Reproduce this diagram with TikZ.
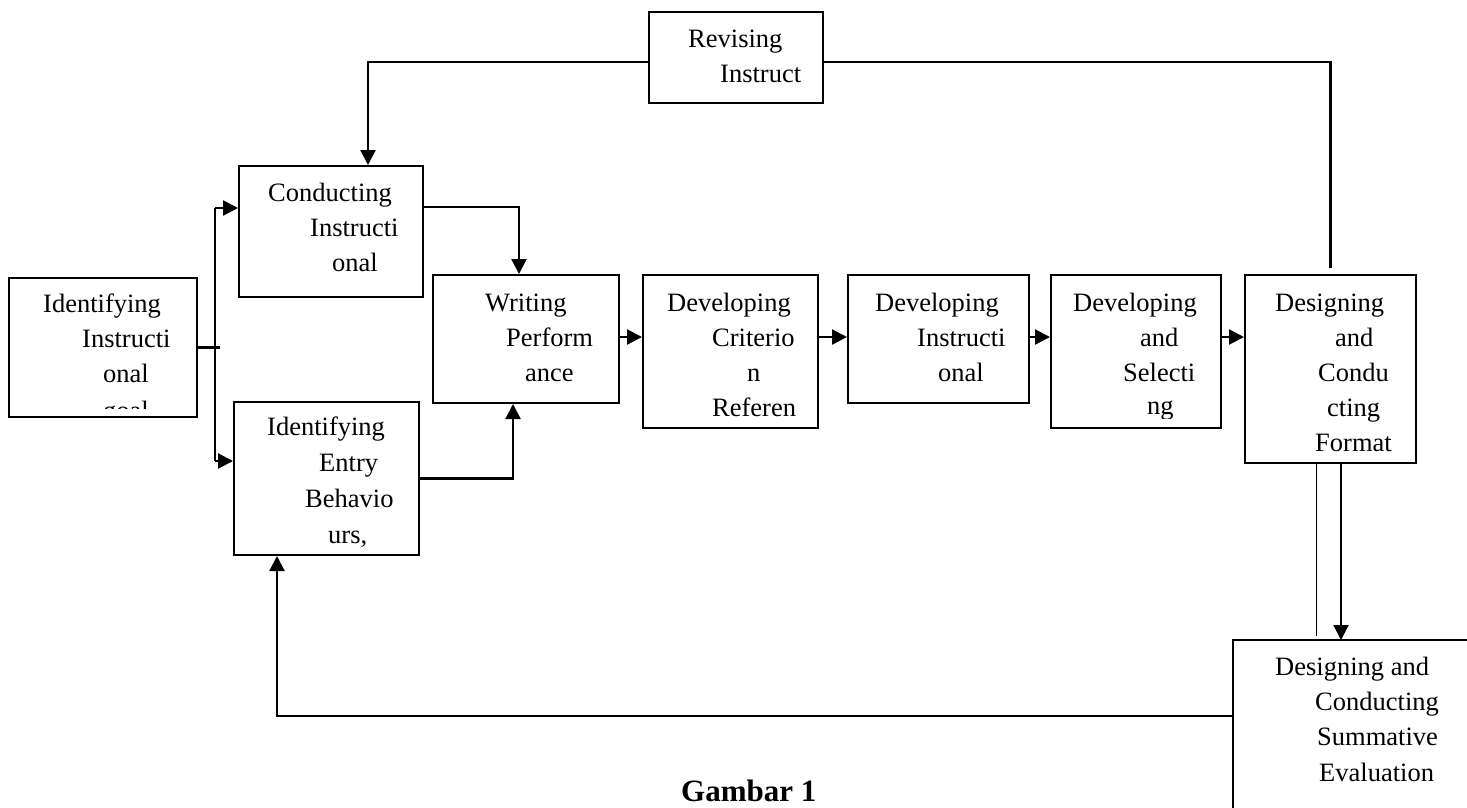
\documentclass[tikz,border=0pt]{standalone}
\usepackage{fontspec}
\setmainfont{Liberation Serif}
\usetikzlibrary{arrows.meta}
\tikzset{
  box/.style={draw, line width=2pt, rectangle, inner sep=0pt, anchor=north west},
  txt/.style={anchor=base west, inner sep=0pt, font=\fontsize{26.5}{35}\selectfont},
  con/.style={line width=2.2pt},
  arr/.style={line width=2.2pt, -{Triangle[length=15pt,width=15pt]}},
  thin/.style={line width=1pt}
}
\begin{document}
\begin{tikzpicture}[x=1pt,y=-1pt]
\useasboundingbox (0,0) rectangle (1467,807);
% boxes
\node[box, minimum width=188pt, minimum height=139pt] (n1) at (8,277) {};
\node[box, minimum width=184pt, minimum height=131pt] (n2) at (238,165) {};
\node[box, minimum width=185pt, minimum height=153pt] (n3) at (233,401) {};
\node[box, minimum width=186pt, minimum height=128pt] (n4) at (432,274) {};
\node[box, minimum width=175pt, minimum height=153pt] (n5) at (642,274) {};
\node[box, minimum width=181pt, minimum height=128pt] (n6) at (847,274) {};
\node[box, minimum width=170pt, minimum height=153pt] (n7) at (1050,274) {};
\node[box, minimum width=171pt, minimum height=188pt] (n8) at (1244,274) {};
\node[box, draw=none, minimum width=234pt, minimum height=167pt] (n9) at (1233,640) {};
\node[box, minimum width=174pt, minimum height=91pt] (n10) at (648,11) {};
\draw[line width=2pt] (n9.north east) -- (n9.north west) -- (n9.south west);
% texts
\begin{scope}
\clip ([xshift=2pt,yshift=-2pt]n1.north west) rectangle ([xshift=-2pt,yshift=10pt]n1.south east);
\node[txt] (t1a) at (43,312) {Identifying};
\node[txt] (t1b) at (82,347) {Instructi};
\node[txt] (t1c) at (103,382) {onal};
\node[txt] (t1d) at (103,419) {goal};
\end{scope}
\node[txt] (t2a) at (268,201) {Conducting};
\node[txt] (t2b) at (310,236) {Instructi};
\node[txt] (t2c) at (332,271) {onal};
\node[txt] (t3a) at (267,435) {Identifying};
\node[txt] (t3b) at (319,471) {Entry};
\node[txt] (t3c) at (305,507) {Behavio};
\node[txt] (t3d) at (328,543) {urs,};
\node[txt] (t4a) at (485,311) {Writing};
\node[txt] (t4b) at (506,346) {Perform};
\node[txt] (t4c) at (525,381) {ance};
\node[txt] (t5a) at (667,311) {Developing};
\node[txt] (t5b) at (712,346) {Criterio};
\node[txt] (t5c) at (747,381) {n};
\node[txt] (t5d) at (712,416) {Referen};
\node[txt] (t6a) at (875,311) {Developing};
\node[txt] (t6b) at (917,346) {Instructi};
\node[txt] (t6c) at (938,381) {onal};
\begin{scope}
\clip ([xshift=2pt,yshift=-2pt]n7.north west) rectangle ([xshift=-2pt,yshift=11pt]n7.south east);
\node[txt] (t7a) at (1073,311) {Developing};
\node[txt] (t7b) at (1140,346) {and};
\node[txt] (t7c) at (1123,381) {Selecti};
\node[txt] (t7d) at (1147,414) {ng};
\end{scope}
\node[txt] (t8a) at (1275,311) {Designing};
\node[txt] (t8b) at (1335,346) {and};
\node[txt] (t8c) at (1318,381) {Condu};
\node[txt] (t8d) at (1327,416) {cting};
\node[txt] (t8e) at (1315,451) {Format};
\node[txt] (t9a) at (1275,675) {Designing and};
\node[txt] (t9b) at (1315,710) {Conducting};
\node[txt] (t9c) at (1317,745) {Summative};
\node[txt] (t9d) at (1319,781) {Evaluation};
\node[txt] (t10a) at (688,47) {Revising};
\node[txt] (t10b) at (720,82) {Instruct};
\node[anchor=base west, inner sep=0pt, font=\fontsize{31}{36}\selectfont\bfseries] (cap) at (681,801) {Gambar 1};
% connectors
\coordinate (jt) at (215,208);
\coordinate (jb) at (215,461);
\coordinate (row) at (0,337);
\draw[con] (n1.east) -- ++(22,0);
\draw[con] (jt) -- (jb);
\draw[arr] (jt) -- (jt -| n2.west);
\draw[arr] (jb) -- (jb -| n3.west);
\draw[arr] ([yshift=-42pt]n2.north east) -| ([xshift=-7pt]n4.north);
\draw[arr] (n3.east) -| ([xshift=-13pt]n4.south);
\draw[arr] (row -| n4.east) -- (row -| n5.west);
\draw[arr] (row -| n5.east) -- (row -| n6.west);
\draw[arr] (row -| n6.east) -- (row -| n7.west);
\draw[arr] (row -| n7.east) -- (row -| n8.west);
\draw[arr] ([xshift=10.5pt]n8.south) -- ([xshift=10.5pt]n8.south |- n9.north);
\draw[thin] ([xshift=-14.5pt]n8.south) -- ([xshift=-14.5pt,yshift=4pt]n8.south |- n9.north);
\draw[arr] ([yshift=8.5pt]n9.west) -| ([xshift=-49.5pt]n3.south);
\draw[arr] ([yshift=-4.5pt]n10.west) -| ([xshift=37pt]n2.north);
\draw[con] ([yshift=-4.5pt]n10.east) -| ([yshift=6pt]n8.north);
\end{tikzpicture}
\end{document}
